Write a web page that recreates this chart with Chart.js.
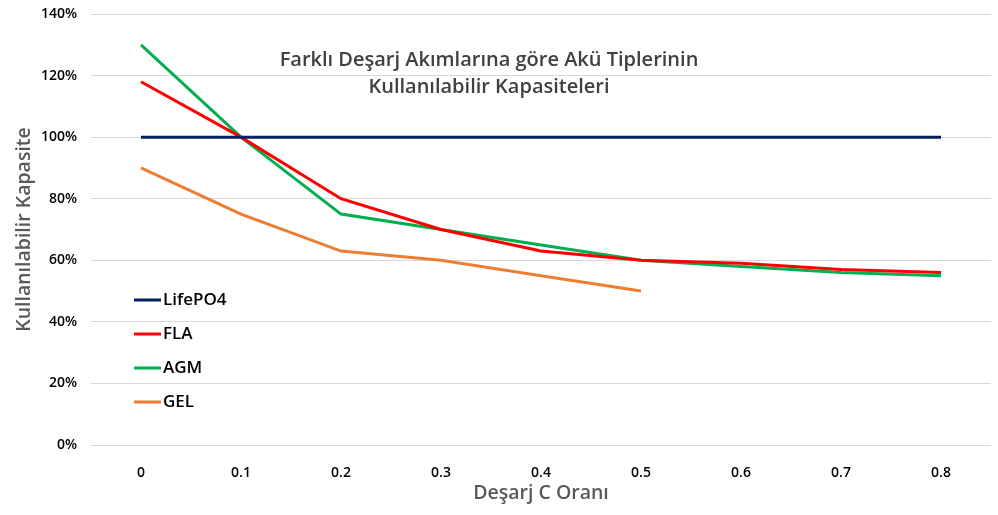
<!DOCTYPE html>
<html lang="tr">
<head>
  <meta charset="UTF-8">
  <title>Akü Tipleri - Kullanılabilir Kapasite</title>
  <script src="https://cdn.jsdelivr.net/npm/chart.js"></script>
  <style>
    body { margin: 0; padding: 0; background: #ffffff; }
    .wrap { width: 998px; height: 515px; position: relative; }
  </style>
</head>
<body>
  <div class="wrap"><canvas id="capChart"></canvas></div>

  <script>
    // Deşarj C oranları (x ekseni)
    const categories = ['0', '0.1', '0.2', '0.3', '0.4', '0.5', '0.6', '0.7', '0.8'];

    // Kullanılabilir kapasite (%)
    const lifePO4 = [100, 100, 100, 100, 100, 100, 100, 100, 100];
    const fla = [118, 100, 80, 70, 63, 60, 59, 57, 56];
    const agm = [130, 100, 75, 70, 65, 60, 58, 56, 55];
    const gel = [90, 75, 63, 60, 55, 50];

    const yTicks = [0, 20, 40, 60, 80, 100, 120, 140];

    const titleLines = ['Farklı Deşarj Akımlarına göre Akü Tiplerinin', 'Kullanılabilir Kapasiteleri'];

    const FONT = "'Open Sans', 'Noto Sans', sans-serif";

    // title drawn inside the plot area, like the Excel original
    const innerTitle = {
      id: 'innerTitle',
      afterDraw(chart) {
        const { ctx, chartArea } = chart;
        ctx.save();
        ctx.font = '600 20px ' + FONT;
        ctx.fillStyle = '#404040';
        ctx.textAlign = 'center';
        ctx.textBaseline = 'middle';
        const cx = chartArea.left + 398;
        titleLines.forEach((t, i) => ctx.fillText(t, cx, chartArea.top + 46 + i * 27));
        ctx.restore();
      }
    };

    // vertical legend sitting inside the plot, lower left
    const innerLegend = {
      id: 'innerLegend',
      afterDraw(chart) {
        const { ctx, chartArea } = chart;
        ctx.save();
        ctx.font = '600 17px ' + FONT;
        ctx.textBaseline = 'middle';
        ctx.textAlign = 'left';
        chart.data.datasets.forEach((ds, i) => {
          const y = chartArea.top + 286 + i * 34;
          const x = chartArea.left + 43;
          ctx.strokeStyle = ds.borderColor;
          ctx.lineWidth = 3;
          ctx.beginPath();
          ctx.moveTo(x, y);
          ctx.lineTo(x + 27, y);
          ctx.stroke();
          ctx.fillStyle = '#000000';
          ctx.fillText(ds.label, x + 29, y);
        });
        ctx.restore();
      }
    };

    const ctx = document.getElementById('capChart').getContext('2d');
    new Chart(ctx, {
      type: 'line',
      data: {
        labels: categories,
        datasets: [
          { label: 'LifePO4', data: lifePO4, borderColor: '#002060' },
          { label: 'FLA', data: fla, borderColor: '#FF0000' },
          { label: 'AGM', data: agm, borderColor: '#00B050' },
          { label: 'GEL', data: gel, borderColor: '#ED7D31' }
        ]
      },
      options: {
        responsive: true,
        maintainAspectRatio: false,
        animation: false,
        layout: { padding: { left: 0, top: 14, right: 7, bottom: 0 } },
        elements: {
          line: { borderWidth: 3, tension: 0, fill: false },
          point: { radius: 0, hoverRadius: 0 }
        },
        plugins: {
          legend: { display: false },
          title: { display: false },
          tooltip: { enabled: false }
        },
        scales: {
          x: {
            offset: true,
            grid: { display: false },
            border: { display: false },
            ticks: { color: '#000000', font: { family: FONT, size: 14, weight: '600' }, padding: 12, maxRotation: 0 },
            title: { display: true, text: 'Deşarj C Oranı', color: '#595959', font: { family: FONT, size: 19.5, weight: '600' }, padding: { top: 0, bottom: 10 } },
            afterFit(scale) { scale.height = 70; scale.paddingLeft = 0; scale.paddingRight = 0; }
          },
          y: {
            min: 0,
            max: 140,
            afterBuildTicks(scale) { scale.ticks = yTicks.map(v => ({ value: v })); },
            grid: { color: '#D9D9D9', lineWidth: 1, drawTicks: false },
            border: { display: false },
            ticks: { color: '#000000', font: { family: FONT, size: 14, weight: '600' }, padding: 14, callback: v => v + '%' },
            title: { display: true, text: 'Kullanılabilir Kapasite', color: '#595959', font: { family: FONT, size: 19.5, weight: '600' }, padding: { top: 13, bottom: 0 } },
            afterFit(scale) { scale.width = 91; scale.paddingTop = 0; scale.paddingBottom = 0; }
          }
        }
      },
      plugins: [innerTitle, innerLegend]
    });
  </script>
</body>
</html>
